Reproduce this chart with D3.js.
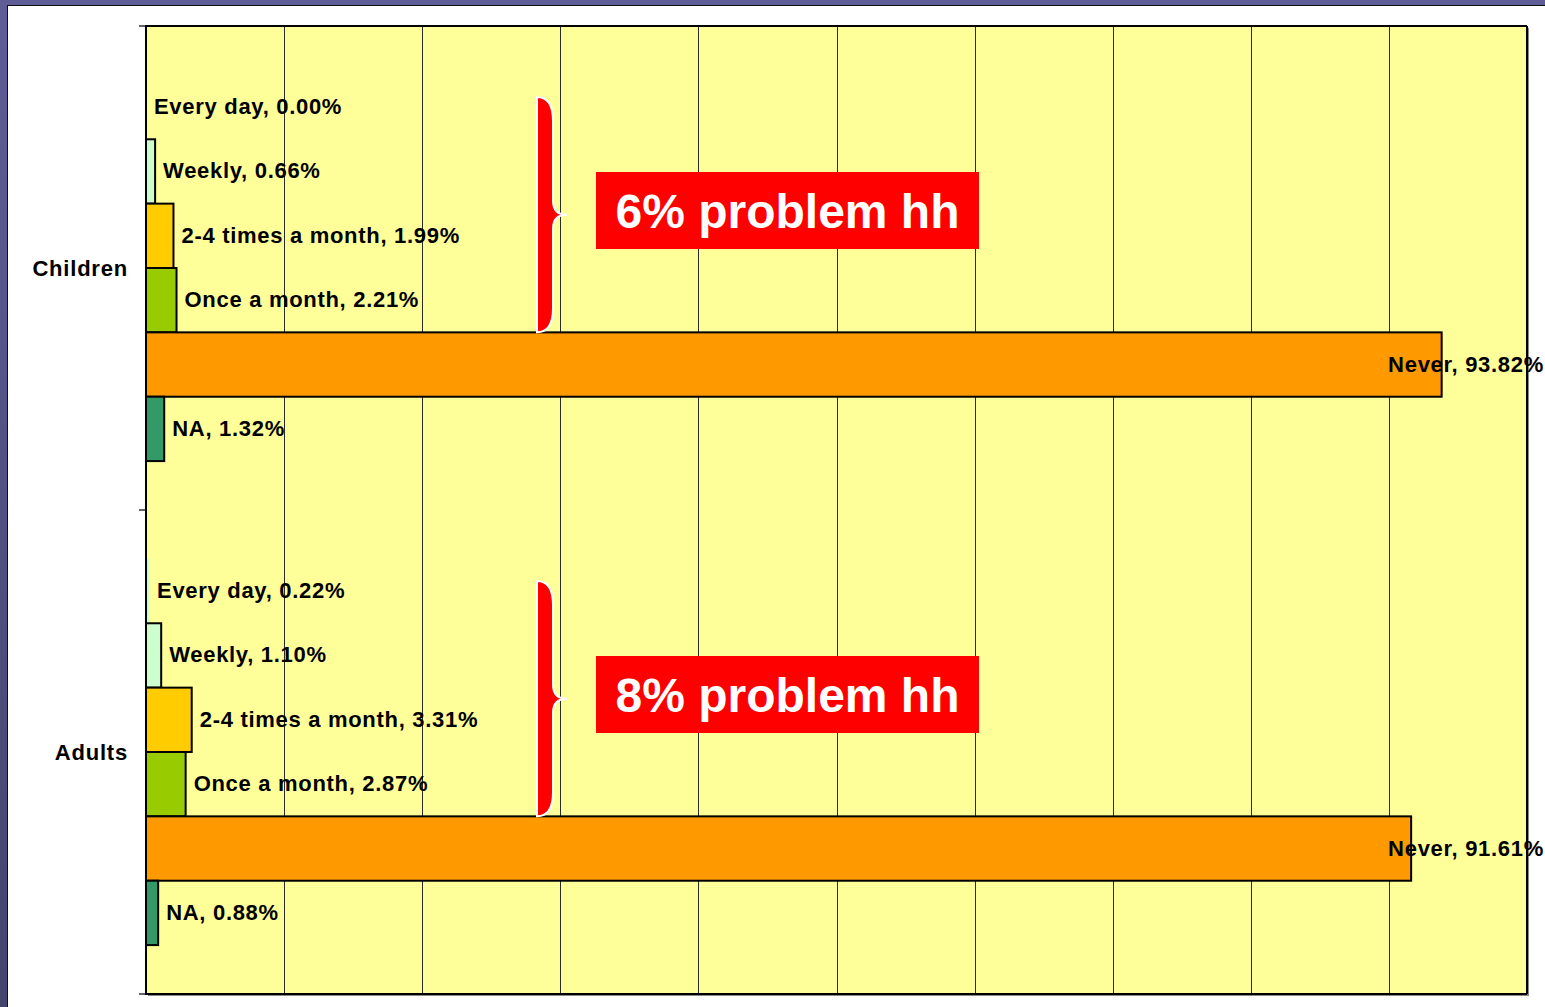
<!DOCTYPE html>
<html>
<head>
<meta charset="utf-8">
<script src="https://cdn.jsdelivr.net/npm/d3@7"></script>
<style>
  body { margin: 0; background: #fff; }
  svg { display: block; }
  text { font-family: "Liberation Sans", Arial, sans-serif; font-weight: bold; }
</style>
</head>
<body>
<div id="chart"></div>
<script>
// groups (top to bottom) and the answer categories inside each group
var groups = ["Children", "Adults"];
var freqs = ["Every day", "Weekly", "2-4 times a month", "Once a month", "Never", "NA"];
var childrenVals = [0.00, 0.66, 1.99, 2.21, 93.82, 1.32];
var adultsVals = [0.22, 1.10, 3.31, 2.87, 91.61, 0.88];
var notes = ["6% problem hh", "8% problem hh"];
var xTicks = [0, 10, 20, 30, 40, 50, 60, 70, 80, 90, 100];

var barColors = ["#ccffcc", "#ccffcc", "#ffcc00", "#99cc00", "#ff9900", "#339966"];

var W = 1545, H = 1007;
var plot = { left: 146, top: 26, right: 1527, bottom: 994 };

var svg = d3.select("#chart").append("svg")
    .attr("width", W)
    .attr("height", H);

// purple slide frame
var defs = svg.append("defs");
var grad = defs.append("linearGradient").attr("id", "frame")
    .attr("x1", 0).attr("y1", 0).attr("x2", 0).attr("y2", 1);
grad.append("stop").attr("offset", "0%").attr("stop-color", "#5f5d96");
grad.append("stop").attr("offset", "100%").attr("stop-color", "#45446f");
svg.append("rect").attr("width", W).attr("height", H).attr("fill", "url(#frame)");
svg.append("rect")
    .attr("x", 7.5).attr("y", 5.5)
    .attr("width", W).attr("height", H)
    .attr("fill", "#fff")
    .attr("stroke", "#111").attr("stroke-width", 1);

var x = d3.scaleLinear().domain([0, 100]).range([plot.left, plot.right]);
var yGroup = d3.scaleBand().domain(groups).range([plot.top, plot.bottom]);
var yFreq = d3.scaleBand().domain(freqs)
    .range([0, yGroup.bandwidth()])
    .paddingInner(0)
    .paddingOuter(0.76);

// plot area shadow + background
svg.append("rect")
    .attr("x", plot.left + 2).attr("y", plot.top + 2)
    .attr("width", plot.right - plot.left).attr("height", plot.bottom - plot.top)
    .attr("fill", "#888");
svg.append("rect")
    .attr("x", plot.left).attr("y", plot.top)
    .attr("width", plot.right - plot.left).attr("height", plot.bottom - plot.top)
    .attr("fill", "#ffff99");

// vertical gridlines
svg.append("g").selectAll("line")
    .data(xTicks.slice(1, -1))
    .enter().append("line")
    .attr("x1", function(d) { return Math.round(x(d)) + 0.5; })
    .attr("x2", function(d) { return Math.round(x(d)) + 0.5; })
    .attr("y1", plot.top)
    .attr("y2", plot.bottom)
    .attr("stroke", "#2b2b2b")
    .attr("stroke-width", 1);

var series = [childrenVals, adultsVals];

groups.forEach(function(g, gi) {
  var g0 = yGroup(g);
  var vals = series[gi];
  var layer = svg.append("g").attr("transform", "translate(0," + g0 + ")");

  layer.selectAll("rect.bar")
      .data(vals)
      .enter().append("rect")
      .attr("class", "bar")
      .attr("x", x(0))
      .attr("y", function(d, i) { return yFreq(freqs[i]); })
      .attr("width", function(d) { return x(d) - x(0); })
      .attr("height", yFreq.bandwidth())
      .attr("fill", function(d, i) { return barColors[i]; })
      .attr("stroke", "#000")
      .attr("stroke-width", function(d) { return d >= 0.5 ? 2 : 0; });

  layer.selectAll("text.lbl")
      .data(vals)
      .enter().append("text")
      .attr("class", "lbl")
      .attr("x", function(d) { return x(d) + 8; })
      .attr("y", function(d, i) { return yFreq(freqs[i]) + yFreq.bandwidth() / 2 + 7; })
      .attr("font-size", 22)
      .attr("letter-spacing", 0.7)
      .attr("fill", "#000")
      .text(function(d, i) { return freqs[i] + ", " + d.toFixed(2) + "%"; })
      .each(function() {
        // keep labels inside the chart on the right
        var t = d3.select(this);
        var w = this.getComputedTextLength();
        if (+t.attr("x") + w > W - 1) {
          t.attr("x", W - 1).attr("text-anchor", "end");
        }
      });

  // brace over the problem categories
  var yt = g0 + yFreq(freqs[0]) + 22;
  var yb = g0 + yFreq("Never");
  var ym = (yt + yb) / 2;
  var xl = 537, xr = 553, xt = 567;
  var p = d3.path();
  p.moveTo(xl, yt);
  p.quadraticCurveTo(xr, yt, xr, yt + 24);
  p.lineTo(xr, ym - 14);
  p.quadraticCurveTo(xr, ym, xt, ym);
  p.quadraticCurveTo(xr, ym, xr, ym + 14);
  p.lineTo(xr, yb - 24);
  p.quadraticCurveTo(xr, yb, xl, yb);
  p.closePath();
  svg.append("path")
      .attr("d", p.toString())
      .attr("fill", "#ff0000")
      .attr("stroke", "#fff")
      .attr("stroke-width", 2);

  // red note box
  var by = g0 + 146;
  svg.append("rect")
      .attr("x", 596).attr("y", by)
      .attr("width", 383).attr("height", 77)
      .attr("fill", "#ff0000");
  svg.append("text")
      .attr("x", 787.5).attr("y", by + 56)
      .attr("text-anchor", "middle")
      .attr("font-size", 48)
      .attr("fill", "#fff")
      .text(notes[gi]);

  // group label
  svg.append("text")
      .attr("x", 128)
      .attr("y", g0 + yGroup.bandwidth() / 2 + 8)
      .attr("text-anchor", "end")
      .attr("font-size", 22)
      .attr("letter-spacing", 0.8)
      .attr("fill", "#000")
      .text(g);
});

// plot border
svg.append("line")
    .attr("x1", plot.left).attr("x2", plot.right)
    .attr("y1", plot.top).attr("y2", plot.top)
    .attr("stroke", "#000").attr("stroke-width", 2);
svg.append("line")
    .attr("x1", plot.right).attr("x2", plot.right)
    .attr("y1", plot.top).attr("y2", plot.bottom)
    .attr("stroke", "#000").attr("stroke-width", 2);
svg.append("line")
    .attr("x1", plot.left).attr("x2", plot.right)
    .attr("y1", plot.bottom).attr("y2", plot.bottom)
    .attr("stroke", "#000").attr("stroke-width", 2);

// category axis with ticks at group boundaries
var bounds = groups.map(function(g) { return yGroup(g); }).concat([plot.bottom]);
svg.append("g").selectAll("line")
    .data(bounds)
    .enter().append("line")
    .attr("x1", plot.left - 7).attr("x2", plot.left)
    .attr("y1", function(d) { return d; })
    .attr("y2", function(d) { return d; })
    .attr("stroke", "#333").attr("stroke-width", 1.5);
svg.append("line")
    .attr("x1", plot.left).attr("x2", plot.left)
    .attr("y1", plot.top - 1).attr("y2", plot.bottom + 1)
    .attr("stroke", "#000").attr("stroke-width", 2);
</script>
</body>
</html>
